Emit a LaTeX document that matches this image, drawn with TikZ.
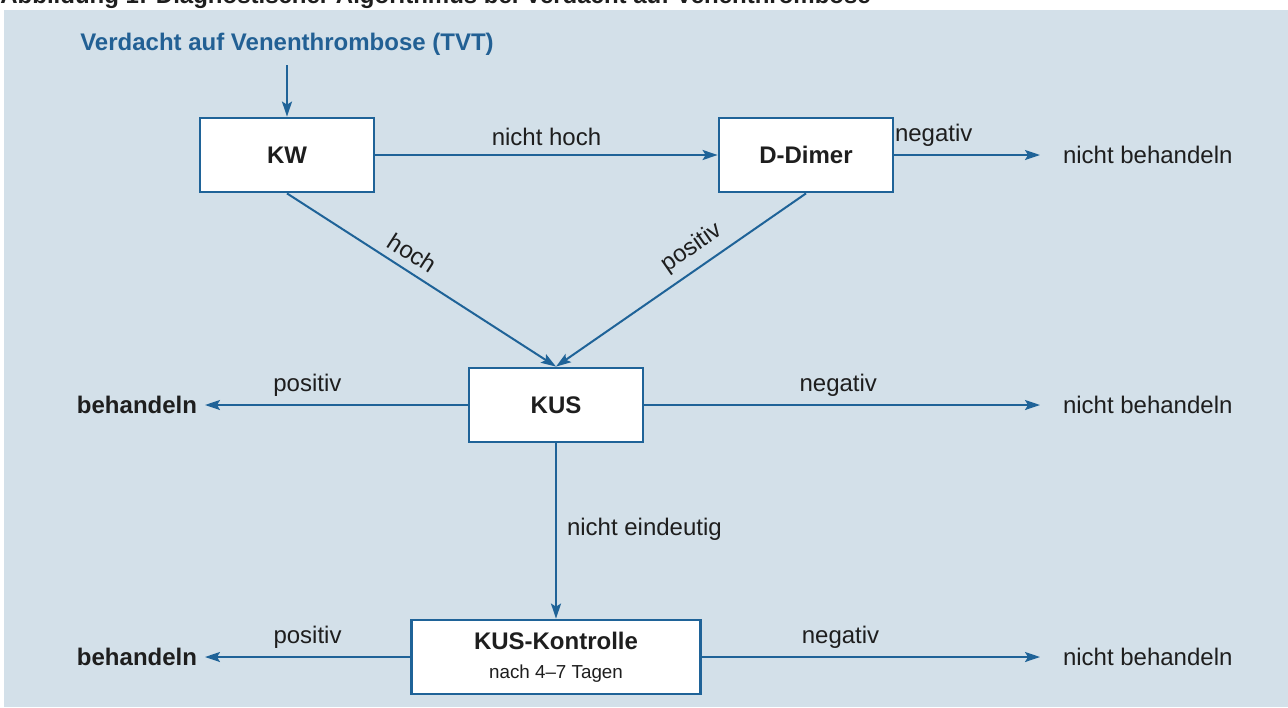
\documentclass[tikz,border=0pt]{standalone}
\usepackage{fontspec}
\setmainfont{Liberation Sans}
\usepackage{tikz}
\usetikzlibrary{arrows.meta, positioning}
\definecolor{TVTBack}{RGB}{211, 224, 233}
\definecolor{TVTBlue}{RGB}{31, 99, 152}
\definecolor{TVTTitle}{RGB}{34, 96, 148}
\definecolor{TVTTextDark}{RGB}{30, 30, 30}

\tikzset{
  stepbox/.style={draw=TVTBlue, line width=1.4pt, fill=white, inner sep=0pt,
    minimum width=87pt, minimum height=37pt, text=TVTTextDark,
    font=\fontsize{12}{14}\selectfont\bfseries},
  flow/.style={draw=TVTBlue, line width=1pt,
    -{Stealth[length=7.5pt, width=5pt, inset=1.5pt]}},
  edgelabel/.style={font=\fontsize{12}{14}\selectfont, text=TVTTextDark, inner sep=1pt},
  outcome/.style={font=\fontsize{12}{14}\selectfont, text=TVTTextDark, inner sep=0pt,
    outer xsep=11.5pt, anchor=west},
  treat/.style={font=\fontsize{12}{14}\selectfont\bfseries, text=TVTTextDark, inner sep=0pt,
    outer xsep=4pt, anchor=east}
}

\begin{document}
\begin{tikzpicture}[x=0.5pt,y=-0.5pt]
  \path[use as bounding box] (0,0) rectangle (1288,707);
  \clip (0,0) rectangle (1288,707);
  \fill[white] (0,0) rectangle (1288,707);
  \node[anchor=base west, inner sep=0pt, text=TVTTextDark,
    font=\fontsize{12}{14}\selectfont\bfseries] (caption) at (0,3.5)
    {Abbildung 1: Diagnostischer Algorithmus bei Verdacht auf Venenthrombose};
  \fill[TVTBack] (4,10) rectangle (1288,707);

  % start
  \node[inner sep=0pt, outer ysep=5pt, text=TVTTitle,
    font=\fontsize{12}{14}\selectfont\bfseries] (tvt) at (287,44)
    {Verdacht auf Venenthrombose (TVT)};

  % boxes
  \node[stepbox] (kw) at (287,155) {KW};
  \node[stepbox] (ddimer) at (806,155) {D-Dimer};
  \node[stepbox] (kus) at (556,405) {KUS};
  \node[stepbox, minimum width=144.5pt, align=center] (kontrolle) at (556,657)
    {KUS-Kontrolle\\[0.5pt]{\fontsize{9.4}{11}\selectfont\mdseries nach 4--7 Tagen}};

  % outcomes
  \node[outcome] (nb1) at (1040,155) {nicht behandeln};
  \node[outcome] (nb2) at (1040,405) {nicht behandeln};
  \node[outcome] (nb3) at (1040,657) {nicht behandeln};
  \node[treat] (b1) at (205,405) {behandeln};
  \node[treat] (b2) at (205,657) {behandeln};

  % connectors
  \draw[flow] (tvt) -- (kw);
  \draw[flow] (kw) -- node[edgelabel, above=3pt] {nicht hoch} (ddimer);
  \draw[flow] (ddimer.east) -- node[edgelabel, above=3pt, pos=0.27] {negativ} (nb1.west);
  \draw[flow] (kw.south) -- node[edgelabel, sloped, above=3pt, pos=0.43] {hoch} (kus.north);
  \draw[flow] (ddimer.south) -- node[edgelabel, sloped, above=3pt, pos=0.41] {positiv} (kus.north);
  \draw[flow] (kus.west) -- node[edgelabel, above=3pt, pos=0.61] {positiv} (b1.east);
  \draw[flow] (kus.east) -- node[edgelabel, above=3pt, pos=0.49] {negativ} (nb2.west);
  \draw[flow] (kus.south) -- node[edgelabel, right=4pt, pos=0.49] {nicht eindeutig} (kontrolle.north);
  \draw[flow] (kontrolle.west) -- node[edgelabel, above=3pt, pos=0.5] {positiv} (b2.east);
  \draw[flow] (kontrolle.east) -- node[edgelabel, above=3pt, pos=0.41] {negativ} (nb3.west);
\end{tikzpicture}
\end{document}
